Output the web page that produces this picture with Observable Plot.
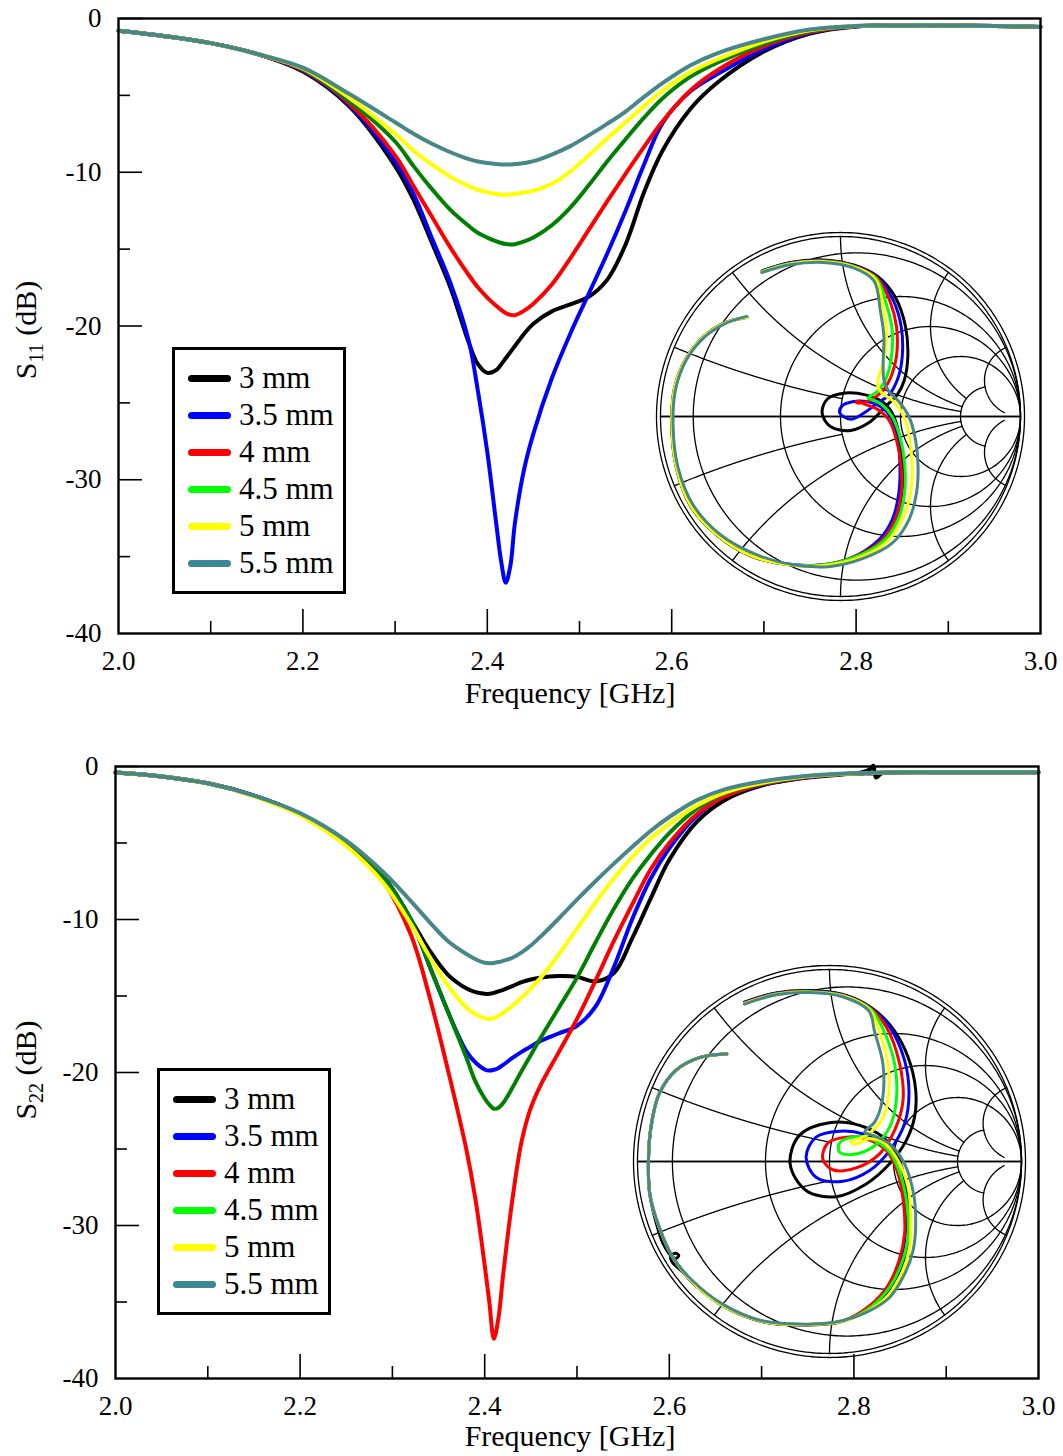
<!DOCTYPE html>
<html><head><meta charset="utf-8">
<script src="https://cdn.jsdelivr.net/npm/d3@7"></script>
<script src="https://cdn.jsdelivr.net/npm/@observablehq/plot@0.6"></script>
<style>
body{margin:0;background:#fff;}
#root{position:relative;width:1063px;height:1456px;overflow:hidden;font-family:"Liberation Serif","Times New Roman",serif;background:#fff;}
.pane{position:absolute;left:0;}
.smith{position:absolute;}
.legend{position:absolute;border:3px solid #000;background:#fff;box-sizing:border-box;width:174px;height:247px;}
.legend .row{position:absolute;left:0;height:36px;width:168px;}
.legend .swatch{position:absolute;left:13px;top:15px;width:43px;height:7px;border-radius:4px;}
.legend .lab{position:absolute;left:64px;top:0;line-height:36px;font-size:31px;white-space:nowrap;color:#000;}
</style></head>
<body><div id="root"></div>
<script>
// ---------- categories & styles ----------
const sizeLabels = ["3 mm","3.5 mm","4 mm","4.5 mm","5 mm","5.5 mm"];
const curveColors = ["#000000","#0000ff","#ff0000","#008000","#ffff00","#478787"];
const keyColors   = ["#000000","#0000ff","#ff0000","#00ff00","#ffff00","#3a8796"];
const smithColors = ["#000000","#0000ff","#ff0000","#00ff00","#ffff00","#478787"];

// ---------- tick labels ----------
const xTickLabels = [2.0,2.2,2.4,2.6,2.8,3.0];
const xMajorTicks = [2.2,2.4,2.6,2.8];
const xMinorTicks = [2.1,2.3,2.5,2.7,2.9];
const yTickLabels = [0,-10,-20,-30,-40];
const yMajorTicks = [0,-10,-20,-30];
const yMinorTicks = [-5,-15,-25,-35];

// ---------- S11 (dB) ----------
const F11 = [2.0,2.05,2.1,2.15,2.2,2.25,2.3,2.32,2.34,2.36,2.38,2.39,2.40,2.41,2.415,2.42,2.425,2.43,2.44,2.45,2.47,2.49,2.51,2.53,2.55,2.57,2.59,2.62,2.65,2.7,2.75,2.8,2.85,2.9,2.95,3.0];
const s11_3mm   = [-0.8,-1.15,-1.6,-2.3,-3.45,-5.7,-9.6,-11.8,-14.6,-17.5,-21.1,-22.5,-23.05,-22.85,-22.5,-22.1,-21.7,-21.3,-20.5,-19.85,-19.05,-18.6,-18.1,-17.0,-14.7,-11.3,-8.6,-5.9,-4.15,-2.15,-0.98,-0.52,-0.45,-0.45,-0.48,-0.55];
const s11_3p5mm = [-0.8,-1.15,-1.6,-2.3,-3.4,-5.6,-9.3,-11.4,-14.3,-17.2,-21.0,-24.3,-28.2,-33.0,-35.3,-36.7,-35.6,-32.8,-29.3,-27.0,-23.4,-20.5,-17.9,-15.3,-12.5,-9.5,-6.8,-4.75,-3.6,-2.0,-0.93,-0.51,-0.45,-0.45,-0.48,-0.55];
const s11_4mm   = [-0.8,-1.15,-1.6,-2.3,-3.35,-5.5,-8.9,-10.9,-12.9,-14.9,-16.7,-17.5,-18.15,-18.7,-18.95,-19.15,-19.28,-19.3,-19.0,-18.55,-17.3,-15.6,-13.75,-11.9,-10.1,-8.35,-6.7,-4.7,-3.35,-1.8,-0.88,-0.5,-0.45,-0.45,-0.48,-0.55];
const s11_4p5mm = [-0.8,-1.15,-1.6,-2.3,-3.3,-5.35,-8.0,-9.6,-11.1,-12.45,-13.5,-13.95,-14.25,-14.5,-14.6,-14.67,-14.7,-14.68,-14.5,-14.25,-13.45,-12.3,-10.85,-9.3,-7.85,-6.45,-5.2,-3.8,-2.85,-1.65,-0.82,-0.49,-0.45,-0.45,-0.48,-0.55];
const s11_5mm   = [-0.8,-1.15,-1.6,-2.3,-3.25,-5.15,-7.5,-8.6,-9.5,-10.3,-10.9,-11.15,-11.3,-11.42,-11.45,-11.47,-11.45,-11.4,-11.32,-11.2,-10.75,-9.95,-8.9,-7.8,-6.75,-5.7,-4.7,-3.5,-2.65,-1.5,-0.77,-0.49,-0.45,-0.45,-0.48,-0.55];
const s11_5p5mm = [-0.8,-1.15,-1.6,-2.3,-3.2,-4.9,-6.75,-7.5,-8.15,-8.7,-9.15,-9.3,-9.4,-9.47,-9.49,-9.5,-9.5,-9.47,-9.4,-9.28,-8.85,-8.3,-7.6,-6.85,-6.05,-5.1,-4.2,-3.05,-2.25,-1.35,-0.72,-0.48,-0.45,-0.45,-0.48,-0.55];

// ---------- S22 (dB) ----------
const F22 = [2.0,2.05,2.1,2.15,2.2,2.25,2.29,2.32,2.34,2.36,2.38,2.39,2.40,2.405,2.41,2.415,2.42,2.43,2.44,2.45,2.46,2.48,2.50,2.52,2.54,2.56,2.58,2.60,2.63,2.66,2.70,2.75,2.80,2.81,2.818,2.821,2.824,2.83,2.85,2.9,2.95,3.0];
const s22_3mm   = [-0.4,-0.65,-1.1,-1.9,-3.1,-4.9,-7.15,-10.0,-12.0,-13.6,-14.5,-14.75,-14.85,-14.86,-14.8,-14.7,-14.6,-14.35,-14.1,-13.92,-13.8,-13.7,-13.75,-14.05,-13.5,-11.2,-8.6,-6.1,-3.6,-2.2,-1.25,-0.72,-0.45,-0.35,-0.15,0.05,-0.72,-0.45,-0.38,-0.37,-0.37,-0.37];
const s22_3p5mm = [-0.4,-0.65,-1.1,-1.9,-3.1,-4.9,-7.2,-10.0,-13.0,-16.0,-18.6,-19.35,-19.8,-19.87,-19.82,-19.7,-19.5,-19.05,-18.65,-18.3,-17.95,-17.45,-16.95,-15.7,-13.1,-9.95,-7.3,-5.35,-3.2,-1.95,-1.2,-0.7,-0.46,-0.45,-0.44,-0.43,-0.42,-0.41,-0.38,-0.37,-0.37,-0.37];
const s22_4mm   = [-0.4,-0.65,-1.1,-1.9,-3.1,-4.95,-7.5,-11.0,-15.0,-19.8,-25.0,-28.3,-32.6,-35.0,-37.4,-36.0,-33.2,-28.3,-24.5,-22.3,-20.9,-18.7,-16.5,-14.0,-11.4,-9.0,-6.7,-5.0,-3.1,-1.95,-1.16,-0.68,-0.46,-0.45,-0.44,-0.43,-0.42,-0.41,-0.38,-0.37,-0.37,-0.37];
const s22_4p5mm = [-0.4,-0.65,-1.1,-1.9,-3.1,-4.9,-7.2,-10.0,-13.0,-16.0,-19.0,-20.6,-21.7,-22.1,-22.37,-22.3,-22.0,-21.0,-19.9,-18.85,-17.8,-15.8,-13.8,-11.5,-9.3,-7.35,-5.75,-4.35,-2.75,-1.75,-1.12,-0.66,-0.46,-0.45,-0.44,-0.43,-0.42,-0.41,-0.38,-0.37,-0.37,-0.37];
const s22_5mm   = [-0.4,-0.65,-1.1,-1.95,-3.2,-5.2,-7.6,-10.3,-12.4,-14.3,-15.75,-16.2,-16.45,-16.5,-16.45,-16.3,-16.1,-15.65,-15.1,-14.5,-13.85,-12.3,-10.6,-8.9,-7.3,-5.9,-4.7,-3.75,-2.55,-1.7,-1.08,-0.64,-0.45,-0.44,-0.43,-0.42,-0.41,-0.4,-0.38,-0.37,-0.37,-0.37];
const s22_5p5mm = [-0.4,-0.65,-1.1,-1.9,-3.05,-4.85,-6.9,-8.8,-10.15,-11.4,-12.25,-12.6,-12.83,-12.86,-12.84,-12.78,-12.7,-12.5,-12.15,-11.7,-11.15,-9.95,-8.7,-7.5,-6.35,-5.25,-4.2,-3.3,-2.2,-1.5,-0.98,-0.6,-0.44,-0.43,-0.42,-0.41,-0.41,-0.4,-0.38,-0.37,-0.37,-0.37];

// ---------- Smith chart traces (reflection coefficient re, im) ----------
const smith11_3mm = [[-0.435,0.81],[-0.278,0.856],[-0.093,0.87],[0.078,0.84],[0.21,0.775],[0.306,0.66],[0.361,0.5],[0.374,0.333],[0.354,0.2],[0.315,0.12],[0.25,0.056],[0.167,-0.028],[0.056,-0.078],[-0.056,-0.056],[-0.102,0.019],[-0.074,0.096],[0.028,0.13],[0.139,0.12],[0.231,0.083],[0.287,0.019],[0.324,-0.093],[0.343,-0.241],[0.343,-0.407],[0.311,-0.556],[0.231,-0.685],[0.056,-0.792],[-0.13,-0.83],[-0.315,-0.82],[-0.5,-0.774],[-0.685,-0.66],[-0.835,-0.494],[-0.913,-0.28],[-0.937,-0.056],[-0.924,0.148],[-0.862,0.315],[-0.76,0.444],[-0.648,0.519],[-0.52,0.552]];
const smith11_3p5mm = [[-0.435,0.808],[-0.278,0.854],[-0.093,0.867],[0.076,0.838],[0.207,0.772],[0.292,0.648],[0.337,0.5],[0.343,0.333],[0.319,0.213],[0.269,0.12],[0.204,0.074],[0.13,0.019],[0.056,-0.015],[-0.004,0.019],[0.009,0.059],[0.074,0.083],[0.148,0.083],[0.222,0.056],[0.278,0],[0.315,-0.111],[0.33,-0.259],[0.324,-0.426],[0.287,-0.574],[0.213,-0.685],[0.056,-0.787],[-0.13,-0.826],[-0.315,-0.817],[-0.5,-0.771],[-0.685,-0.658],[-0.834,-0.492],[-0.912,-0.279],[-0.936,-0.056],[-0.923,0.148],[-0.861,0.315],[-0.759,0.444],[-0.647,0.518],[-0.52,0.551]];
const smith11_4mm = [[-0.436,0.806],[-0.279,0.852],[-0.094,0.865],[0.074,0.836],[0.204,0.769],[0.275,0.64],[0.311,0.5],[0.311,0.333],[0.281,0.222],[0.231,0.139],[0.167,0.093],[0.102,0.074],[0.085,0.08],[0.102,0.086],[0.13,0.07],[0.204,0.041],[0.269,-0.019],[0.311,-0.13],[0.337,-0.278],[0.337,-0.426],[0.302,-0.574],[0.222,-0.694],[0.056,-0.788],[-0.13,-0.827],[-0.315,-0.818],[-0.5,-0.772],[-0.685,-0.658],[-0.834,-0.492],[-0.912,-0.279],[-0.936,-0.056],[-0.923,0.148],[-0.861,0.315],[-0.759,0.444],[-0.647,0.518],[-0.52,0.551]];
const smith11_4p5mm = [[-0.436,0.805],[-0.279,0.85],[-0.094,0.863],[0.073,0.834],[0.2,0.765],[0.256,0.62],[0.287,0.481],[0.281,0.315],[0.25,0.204],[0.204,0.139],[0.152,0.102],[0.176,0.093],[0.231,0.065],[0.287,0],[0.33,-0.111],[0.356,-0.259],[0.356,-0.426],[0.319,-0.574],[0.237,-0.694],[0.06,-0.789],[-0.13,-0.828],[-0.315,-0.818],[-0.5,-0.772],[-0.685,-0.658],[-0.834,-0.492],[-0.912,-0.279],[-0.936,-0.056],[-0.923,0.148],[-0.861,0.315],[-0.759,0.444],[-0.647,0.518],[-0.52,0.551]];
const smith11_5mm = [[-0.437,0.803],[-0.279,0.848],[-0.094,0.86],[0.072,0.831],[0.196,0.76],[0.237,0.602],[0.256,0.463],[0.241,0.315],[0.213,0.222],[0.207,0.167],[0.231,0.13],[0.296,0.083],[0.352,0],[0.385,-0.13],[0.398,-0.278],[0.389,-0.426],[0.343,-0.574],[0.25,-0.704],[0.07,-0.795],[-0.13,-0.83],[-0.315,-0.82],[-0.5,-0.772],[-0.685,-0.658],[-0.834,-0.492],[-0.912,-0.279],[-0.936,-0.056],[-0.923,0.148],[-0.861,0.315],[-0.759,0.444],[-0.647,0.518],[-0.52,0.551]];
const smith11_5p5mm = [[-0.437,0.8],[-0.28,0.843],[-0.094,0.856],[0.065,0.828],[0.185,0.755],[0.222,0.583],[0.241,0.444],[0.237,0.296],[0.241,0.204],[0.269,0.139],[0.324,0.083],[0.38,0],[0.417,-0.13],[0.431,-0.278],[0.422,-0.426],[0.38,-0.574],[0.287,-0.704],[0.13,-0.787],[-0.056,-0.833],[-0.259,-0.824],[-0.463,-0.769],[-0.667,-0.657],[-0.819,-0.491],[-0.904,-0.278],[-0.93,-0.056],[-0.917,0.148],[-0.856,0.315],[-0.756,0.441],[-0.644,0.515],[-0.522,0.556]];

const smith22_3mm = [[-0.443,0.83],[-0.278,0.878],[-0.104,0.89],[0.07,0.87],[0.22,0.8],[0.33,0.692],[0.409,0.544],[0.449,0.37],[0.443,0.231],[0.4,0.11],[0.313,-0.012],[0.191,-0.117],[0.035,-0.183],[-0.122,-0.151],[-0.205,-0.012],[-0.157,0.136],[0,0.202],[0.157,0.188],[0.278,0.127],[0.357,0.023],[0.397,-0.117],[0.417,-0.273],[0.409,-0.43],[0.357,-0.586],[0.243,-0.743],[0.07,-0.832],[-0.139,-0.852],[-0.348,-0.835],[-0.539,-0.762],[-0.696,-0.647],[-0.765,-0.575],[-0.822,-0.52],[-0.826,-0.49],[-0.8,-0.478],[-0.785,-0.49],[-0.8,-0.505],[-0.835,-0.48],[-0.87,-0.42],[-0.896,-0.343],[-0.936,-0.169],[-0.943,0.005],[-0.93,0.179],[-0.887,0.353],[-0.8,0.475],[-0.678,0.541],[-0.535,0.56]];
const smith22_3p5mm = [[-0.443,0.828],[-0.278,0.876],[-0.104,0.888],[0.07,0.868],[0.218,0.798],[0.313,0.701],[0.391,0.527],[0.414,0.353],[0.391,0.197],[0.313,0.057],[0.209,-0.047],[0.07,-0.103],[-0.07,-0.082],[-0.122,0.023],[-0.07,0.127],[0.052,0.158],[0.174,0.144],[0.278,0.083],[0.348,-0.021],[0.383,-0.169],[0.397,-0.325],[0.379,-0.482],[0.33,-0.621],[0.226,-0.743],[0.07,-0.83],[-0.139,-0.85],[-0.348,-0.833],[-0.539,-0.76],[-0.696,-0.645],[-0.817,-0.499],[-0.887,-0.343],[-0.936,-0.169],[-0.943,0.005],[-0.93,0.179],[-0.887,0.353],[-0.8,0.475],[-0.678,0.541],[-0.535,0.56]];
const smith22_4mm = [[-0.443,0.826],[-0.278,0.874],[-0.104,0.886],[0.07,0.866],[0.216,0.796],[0.296,0.701],[0.365,0.51],[0.383,0.318],[0.339,0.162],[0.261,0.04],[0.139,-0.033],[0.017,-0.043],[-0.035,0.014],[-0.009,0.096],[0.087,0.127],[0.191,0.118],[0.296,0.057],[0.357,-0.064],[0.386,-0.221],[0.391,-0.377],[0.362,-0.517],[0.304,-0.647],[0.209,-0.751],[0.07,-0.83],[-0.139,-0.849],[-0.348,-0.832],[-0.539,-0.759],[-0.696,-0.644],[-0.817,-0.498],[-0.887,-0.343],[-0.936,-0.169],[-0.943,0.005],[-0.93,0.179],[-0.887,0.353],[-0.8,0.475],[-0.678,0.541],[-0.535,0.56]];
const smith22_4p5mm = [[-0.443,0.824],[-0.278,0.872],[-0.104,0.884],[0.07,0.864],[0.214,0.794],[0.278,0.692],[0.339,0.51],[0.348,0.318],[0.313,0.179],[0.226,0.075],[0.122,0.037],[0.052,0.049],[0.052,0.096],[0.122,0.127],[0.217,0.118],[0.313,0.049],[0.374,-0.082],[0.405,-0.238],[0.409,-0.395],[0.374,-0.534],[0.313,-0.656],[0.217,-0.757],[0.07,-0.83],[-0.139,-0.849],[-0.348,-0.832],[-0.539,-0.759],[-0.696,-0.644],[-0.817,-0.498],[-0.887,-0.343],[-0.936,-0.169],[-0.943,0.005],[-0.93,0.179],[-0.887,0.353],[-0.8,0.475],[-0.678,0.541],[-0.535,0.56]];
const smith22_5mm = [[-0.443,0.822],[-0.278,0.87],[-0.104,0.882],[0.07,0.862],[0.21,0.79],[0.257,0.683],[0.304,0.51],[0.304,0.318],[0.27,0.214],[0.191,0.136],[0.113,0.104],[0.125,0.09],[0.165,0.1],[0.2,0.118],[0.278,0.101],[0.357,0.005],[0.409,-0.134],[0.423,-0.29],[0.417,-0.447],[0.379,-0.577],[0.313,-0.69],[0.209,-0.774],[0.07,-0.832],[-0.139,-0.85],[-0.348,-0.833],[-0.539,-0.76],[-0.696,-0.645],[-0.817,-0.499],[-0.887,-0.343],[-0.936,-0.169],[-0.943,0.005],[-0.93,0.179],[-0.887,0.353],[-0.8,0.475],[-0.678,0.541],[-0.535,0.56]];
const smith22_5p5mm = [[-0.443,0.82],[-0.278,0.868],[-0.104,0.88],[0.068,0.858],[0.205,0.785],[0.235,0.675],[0.278,0.51],[0.275,0.318],[0.235,0.205],[0.183,0.153],[0.226,0.136],[0.313,0.092],[0.391,-0.012],[0.438,-0.169],[0.449,-0.325],[0.435,-0.464],[0.391,-0.586],[0.313,-0.708],[0.191,-0.786],[0.04,-0.835],[-0.157,-0.847],[-0.365,-0.826],[-0.557,-0.743],[-0.713,-0.621],[-0.817,-0.499],[-0.887,-0.343],[-0.936,-0.169],[-0.943,0.005],[-0.93,0.179],[-0.887,0.353],[-0.8,0.475],[-0.678,0.541],[-0.535,0.56]];

// ---------- Smith grid definition ----------
const smithR      = [0, 0.1, 0.5, 1, 2, 5];
const smithRLimit = [Infinity, Infinity, Infinity, Infinity, Infinity, 5];
const smithX      = [0, 0.2, 0.5, 1, 2, 5];
const smithXLimit = [Infinity, 1, 5, 5, 5, 20];

// ---------- helpers ----------
function gam(r, x){ const d=(r+1)*(r+1)+x*x; return [(r*r+x*x-1)/d, 2*x/d]; }
function buildGrid(outerRatio){
  const pts=[]; const N=360;
  smithR.forEach((r,k)=>{
    const tm=Math.atan(smithRLimit[k]);
    for(let i=0;i<=N;i++){const t=-tm+2*tm*i/N; const g=gam(r,Math.tan(t)); pts.push({g:"r"+k,re:g[0],im:g[1]});}
  });
  smithX.forEach((x,k)=>{
    const tm=Math.atan(smithXLimit[k]);
    [1,-1].forEach(s=>{
      for(let i=0;i<=N;i++){const t=tm*i/N; const g=gam(Math.tan(t),s*x); pts.push({g:"x"+k+"_"+s,re:g[0],im:g[1]});}
    });
  });
  for(let i=0;i<=N;i++){const a=2*Math.PI*i/N; pts.push({g:"outer",re:outerRatio*Math.cos(a),im:outerRatio*Math.sin(a)});}
  return pts;
}

const root=document.getElementById("root");

function drawPanel(F, seriesList, cfg){
  const plotH=cfg.height-cfg.mt-cfg.mb, plotW=1063-cfg.ml-cfg.mr;
  const marks=[];
  marks.push(Plot.tickX(xMinorTicks,{x:d=>d,insetTop:plotH-12,stroke:"#000",strokeWidth:1.6}));
  marks.push(Plot.tickX(xMajorTicks,{x:d=>d,insetTop:plotH-24,stroke:"#000",strokeWidth:1.6}));
  marks.push(Plot.tickY(yMinorTicks,{y:d=>d,insetRight:plotW-12,stroke:"#000",strokeWidth:1.6}));
  marks.push(Plot.tickY(yMajorTicks,{y:d=>d,insetRight:plotW-24,stroke:"#000",strokeWidth:1.6}));
  seriesList.forEach((vals,k)=>{
    const rows=F.map((f,i)=>({f,v:vals[i]}));
    marks.push(Plot.line(rows,{x:"f",y:"v",stroke:curveColors[k],strokeWidth:4,curve:"catmull-rom"}));
  });
  marks.push(Plot.frame({stroke:"#000",strokeWidth:2.4}));
  marks.push(Plot.axisX(xTickLabels,{tickSize:0,tickPadding:17,tickFormat:d=>d.toFixed(1),fontSize:27,label:null}));
  marks.push(Plot.axisY(yTickLabels,{tickSize:0,tickPadding:17,tickFormat:d=>String(d),fontSize:27,label:null}));
  const svg=Plot.plot({
    width:1063,height:cfg.height,marginLeft:cfg.ml,marginRight:cfg.mr,marginTop:cfg.mt,marginBottom:cfg.mb,
    x:{domain:[2,3]},y:{domain:[-40,0]},
    style:{fontFamily:"'Liberation Serif','Times New Roman',serif",fontSize:"27px",background:"transparent",color:"#000",overflow:"visible"},
    marks
  });
  const s=d3.select(svg);
  const yl=s.append("text").attr("transform",`translate(36,${cfg.ylabY}) rotate(-90)`).attr("text-anchor","middle")
    .attr("fill","#000").style("font-size","30px").style("font-family","'Liberation Serif','Times New Roman',serif");
  yl.append("tspan").text("S");
  yl.append("tspan").attr("dy",7).style("font-size","20px").text(cfg.sub);
  yl.append("tspan").attr("dy",-7).text(" (dB)");
  s.append("text").attr("x",570).attr("y",cfg.xlabY).attr("text-anchor","middle").attr("fill","#000")
    .style("font-size","30px").style("font-family","'Liberation Serif','Times New Roman',serif").text("Frequency [GHz]");
  const div=document.createElement("div"); div.className="pane"; div.style.top=cfg.top+"px";
  div.appendChild(svg); root.appendChild(div);
}

function drawSmith(traces, cx, cy, R, Ro){
  const S=Math.ceil(2*(Ro+4)); const h=(S/2)/R;
  const marks=[Plot.line(buildGrid(Ro/R),{x:"re",y:"im",z:"g",stroke:"#000",strokeWidth:1.3})];
  traces.forEach((tr,k)=>marks.push(Plot.line(tr,{x:d=>d[0],y:d=>d[1],stroke:smithColors[k],strokeWidth:3,curve:"catmull-rom"})));
  const svg=Plot.plot({width:S,height:S,margin:0,x:{domain:[-h,h],axis:null},y:{domain:[-h,h],axis:null},
    style:{background:"transparent",overflow:"visible"},marks});
  const div=document.createElement("div"); div.className="smith";
  div.style.left=(cx-S/2)+"px"; div.style.top=(cy-S/2)+"px"; div.style.width=S+"px"; div.style.height=S+"px";
  div.appendChild(svg); root.appendChild(div);
}

function drawLegend(left, top){
  const box=document.createElement("div"); box.className="legend"; box.style.left=left+"px"; box.style.top=top+"px";
  sizeLabels.forEach((lab,k)=>{
    const row=document.createElement("div"); row.className="row"; row.style.top=(10+37*k)+"px";
    const sw=document.createElement("div"); sw.className="swatch"; sw.style.background=keyColors[k];
    const tx=document.createElement("div"); tx.className="lab"; tx.textContent=lab;
    row.appendChild(sw); row.appendChild(tx); box.appendChild(row);
  });
  root.appendChild(box);
}

drawPanel(F11,[s11_3mm,s11_3p5mm,s11_4mm,s11_4p5mm,s11_5mm,s11_5p5mm],
  {top:0,height:712,ml:118,mr:23,mt:18,mb:79,sub:"11",ylabY:330,xlabY:703});
drawPanel(F22,[s22_3mm,s22_3p5mm,s22_4mm,s22_4p5mm,s22_5mm,s22_5p5mm],
  {top:728,height:728,ml:115,mr:25,mt:38,mb:78,sub:"22",ylabY:342,xlabY:718});
drawSmith([smith11_3mm,smith11_3p5mm,smith11_4mm,smith11_4p5mm,smith11_5mm,smith11_5p5mm],840,415.5,180,184);
drawSmith([smith22_3mm,smith22_3p5mm,smith22_4mm,smith22_4p5mm,smith22_5mm,smith22_5p5mm],828.5,1161,192,196);
drawLegend(172,347);
drawLegend(157,1068);
</script></body></html>
